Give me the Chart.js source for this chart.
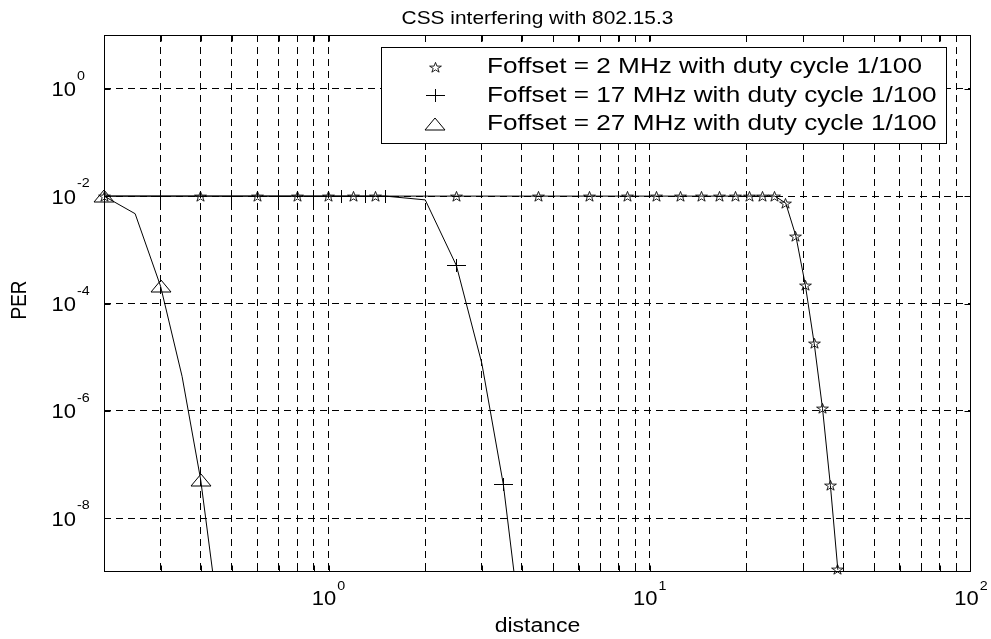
<!DOCTYPE html>
<html>
<head>
<meta charset="utf-8">
<title>CSS interfering with 802.15.3</title>
<script src="https://cdn.jsdelivr.net/npm/chart.js@4.4.1/dist/chart.umd.min.js"></script>
<style>
  html, body { margin: 0; padding: 0; background: #fff; }
  canvas { display: block; }
</style>
</head>
<body>
<canvas id="perChart" width="991" height="639"></canvas>
<script>
// axis ticks / grid
const xGridValues = [0.3, 0.4, 0.5, 0.6, 0.7, 0.8, 0.9, 1, 2, 3, 4, 5, 6, 7, 8, 9, 10, 20, 30, 40, 50, 60, 70, 80, 90];
const xLabelExponents = [0, 1, 2];
const yGridExponents = [0, -2, -4, -6, -8];

const seriesLabels = [
    'Foffset = 2 MHz with duty cycle 1/100',
    'Foffset = 17 MHz with duty cycle 1/100',
    'Foffset = 27 MHz with duty cycle 1/100'
];

// Foffset = 2 MHz (stars on every point)
const starX = [0.2, 0.4, 0.6, 0.8, 1.0, 1.2, 1.4, 2.5, 4.5, 6.5, 8.5, 10.5, 12.5, 14.5, 16.5, 18.5, 20.5, 22.5, 24.5,
               26.5, 28.5, 30.5, 32.5, 34.5, 36.5, 38.5];
const starY = [1e-2, 1e-2, 1e-2, 1e-2, 1e-2, 1e-2, 1e-2, 1e-2, 1e-2, 1e-2, 1e-2, 1e-2, 1e-2, 1e-2, 1e-2, 1e-2, 1e-2, 1e-2, 1e-2,
               7.4e-3, 1.8e-3, 2.2e-4, 1.8e-5, 1.1e-6, 4.1e-8, 1.1e-9];

// Foffset = 17 MHz (plus on every other point)
const plusX = [0.2, 0.3, 0.4, 0.5, 0.6, 0.7, 0.8, 0.9, 1.0, 1.1, 1.2, 1.3, 1.4, 1.5, 2.0, 2.5, 3.0, 3.5, 4.0];
const plusY = [1e-2, 1e-2, 1e-2, 1e-2, 1e-2, 1e-2, 1e-2, 1e-2, 1e-2, 1e-2, 1e-2, 1e-2, 1e-2, 1e-2,
               8.5e-3, 5.1e-4, 7.7e-6, 4.3e-8, 6e-11];
const plusMarkX = [0.3, 0.5, 0.7, 0.9, 1.1, 1.3, 1.5, 2.5, 3.5];

// Foffset = 27 MHz (triangle on every other point)
const triX = [0.2, 0.25, 0.3, 0.35, 0.4, 0.45];
const triY = [1e-2, 4.7e-3, 2.1e-4, 4.4e-6, 5.2e-8, 2.3e-10];
const triMarkX = [0.2, 0.3, 0.4];

const FONT = "'Liberation Sans', Arial, Helvetica, sans-serif";

document.addEventListener('DOMContentLoaded', function() {

    const makeMarker = (w, h, paint) => {
        const c = document.createElement('canvas');
        c.width = w;
        c.height = h;
        const g = c.getContext('2d');
        g.strokeStyle = '#000';
        g.fillStyle = '#000';
        paint(g, w, h);
        return c;
    };

    const starMarker = makeMarker(15, 13, (g) => {
        g.translate(7.5, 6.8);
        g.scale(1.15, 1);
        g.beginPath();
        for (let i = 0; i < 10; i++) {
            const r = i % 2 ? 2.1 : 5.4;
            const a = -Math.PI / 2 + i * Math.PI / 5;
            g.lineTo(r * Math.cos(a), r * Math.sin(a));
        }
        g.closePath();
        g.lineWidth = 0.8;
        g.stroke();
    });

    const plusMarker = makeMarker(19, 13, (g) => {
        g.fillRect(0, 6, 19, 1);
        g.fillRect(9, 0, 1, 13);
    });

    const triMarker = makeMarker(22, 14, (g) => {
        g.beginPath();
        g.moveTo(11, 1);
        g.lineTo(1, 13);
        g.lineTo(21, 13);
        g.closePath();
        g.lineWidth = 1;
        g.stroke();
    });

    const toPoints = (xs, ys) => xs.map((x, i) => ({ x: x, y: ys[i] }));
    const markPoints = (marks, xs, ys) => marks.map(x => ({ x: x, y: ys[xs.indexOf(x)] }));

    const lineSet = (data) => ({
        data: data,
        borderColor: '#000',
        borderWidth: 1,
        pointRadius: 0,
        tension: 0,
        fill: false
    });

    const markSet = (data, marker) => ({
        data: data,
        showLine: false,
        pointStyle: marker,
        pointRadius: 6,
        clip: false
    });

    // text a little stretched across, like the exported figure
    const drawText = (ctx, text, x, y, size, sx, align, baseline, rotate) => {
        ctx.save();
        ctx.translate(x, y);
        if (rotate) {
            ctx.rotate(rotate);
            ctx.scale(1, sx);
        } else {
            ctx.scale(sx, 1);
        }
        ctx.font = size + 'px ' + FONT;
        ctx.fillStyle = '#000';
        ctx.textAlign = align;
        ctx.textBaseline = baseline;
        ctx.fillText(text, 0, 0);
        ctx.restore();
    };

    const textWidth = (ctx, text, size, sx) => {
        ctx.font = size + 'px ' + FONT;
        return ctx.measureText(text).width * sx;
    };

    const matlabAxes = {
        id: 'matlabAxes',
        beforeDraw(chart) {
            const ctx = chart.ctx;
            ctx.save();
            ctx.fillStyle = '#fff';
            ctx.fillRect(0, 0, chart.width, chart.height);
            ctx.restore();
        },
        beforeDatasetsDraw(chart) {
            chart.ctx.imageSmoothingEnabled = false;
        },
        afterDatasetsDraw(chart) {
            chart.ctx.imageSmoothingEnabled = true;
        },
        afterDraw(chart) {
            const ctx = chart.ctx;
            const a = chart.chartArea;
            const xs = chart.scales.x;
            const ys = chart.scales.y;
            const L = Math.round(a.left) + 0.5, R = Math.round(a.right) - 0.5;
            const T = Math.round(a.top) + 0.5, B = Math.round(a.bottom) - 0.5;

            ctx.save();
            ctx.strokeStyle = '#000';
            ctx.lineWidth = 1;
            ctx.strokeRect(L, T, R - L, B - T);

            // inward tick marks
            const tickLen = 6;
            ctx.beginPath();
            xGridValues.forEach(v => {
                const px = Math.round(xs.getPixelForValue(v)) + 0.5;
                ctx.moveTo(px, B); ctx.lineTo(px, B - tickLen);
                ctx.moveTo(px, T); ctx.lineTo(px, T + tickLen);
            });
            yGridExponents.forEach(e => {
                const py = Math.round(ys.getPixelForValue(Math.pow(10, e))) + 0.5;
                ctx.moveTo(L, py); ctx.lineTo(L + tickLen, py);
                ctx.moveTo(R, py); ctx.lineTo(R - tickLen, py);
            });
            ctx.stroke();
            ctx.restore();

            // x tick labels 10^n
            const tsx = 1.1;
            xLabelExponents.forEach(e => {
                const px = xs.getPixelForValue(Math.pow(10, e));
                const sup = String(e);
                const w10 = textWidth(ctx, '10', 20, tsx);
                const ws = textWidth(ctx, sup, 13, tsx);
                const start = px - (w10 + 1 + ws) / 2;
                drawText(ctx, '10', start, 605, 20, tsx, 'left', 'alphabetic');
                drawText(ctx, sup, start + w10 + 1, 590, 13, tsx, 'left', 'alphabetic');
            });

            // y tick labels 10^n
            yGridExponents.forEach(e => {
                const py = ys.getPixelForValue(Math.pow(10, e));
                drawText(ctx, '10', 76, py + 7.5, 20, tsx, 'right', 'alphabetic');
                drawText(ctx, String(e), 77, py - 9, 13, tsx, 'left', 'alphabetic');
            });

            // titles
            drawText(ctx, 'CSS interfering with 802.15.3', (a.left + a.right) / 2, 24, 19, 1.1, 'center', 'alphabetic');
            drawText(ctx, 'distance', (a.left + a.right) / 2, 632, 20, 1.15, 'center', 'alphabetic');
            drawText(ctx, 'PER', 26, 300, 19, 1.2, 'center', 'alphabetic', -Math.PI / 2);

            // legend
            const box = { left: 381.5, top: 47.5, right: 946.5, bottom: 143.5 };
            ctx.save();
            ctx.fillStyle = '#fff';
            ctx.fillRect(box.left, box.top, box.right - box.left, box.bottom - box.top);
            ctx.strokeStyle = '#000';
            ctx.lineWidth = 1;
            ctx.strokeRect(box.left, box.top, box.right - box.left, box.bottom - box.top);
            ctx.restore();

            const rows = [67, 95.5, 124];
            const markers = [starMarker, plusMarker, triMarker];
            seriesLabels.forEach((label, i) => {
                const m = markers[i];
                ctx.drawImage(m, Math.round(435 - m.width / 2), Math.round(rows[i] - m.height / 2));
                drawText(ctx, label, 487, rows[i], 21.8, 1.2, 'left', 'middle');
            });
        }
    };

    const ctx = document.getElementById('perChart').getContext('2d');
    new Chart(ctx, {
        type: 'line',
        data: {
            datasets: [
                lineSet(toPoints(starX, starY)),
                lineSet(toPoints(plusX, plusY)),
                lineSet(toPoints(triX, triY)),
                markSet(toPoints(starX, starY), starMarker),
                markSet(markPoints(plusMarkX, plusX, plusY), plusMarker),
                markSet(markPoints(triMarkX, triX, triY), triMarker)
            ]
        },
        options: {
            responsive: false,
            animation: false,
            events: [],
            layout: {
                padding: { left: 0, right: 20, top: 35, bottom: 0 }
            },
            plugins: {
                legend: { display: false },
                tooltip: { enabled: false },
                title: { display: false }
            },
            scales: {
                x: {
                    type: 'logarithmic',
                    min: 0.2,
                    max: 100,
                    afterBuildTicks: (s) => { s.ticks = xGridValues.map(v => ({ value: v })); },
                    afterFit: (s) => { s.height = 67; },
                    ticks: { display: false },
                    grid: { color: '#000', lineWidth: 1, drawTicks: false },
                    border: { display: false, dash: [7, 5] }
                },
                y: {
                    type: 'logarithmic',
                    min: 1e-9,
                    max: 10,
                    afterBuildTicks: (s) => { s.ticks = yGridExponents.map(e => ({ value: Math.pow(10, e) })); },
                    afterFit: (s) => { s.width = 104; },
                    ticks: { display: false },
                    grid: { color: '#000', lineWidth: 1, drawTicks: false },
                    border: { display: false, dash: [7, 5] }
                }
            }
        },
        plugins: [matlabAxes]
    });
});
</script>
</body>
</html>
